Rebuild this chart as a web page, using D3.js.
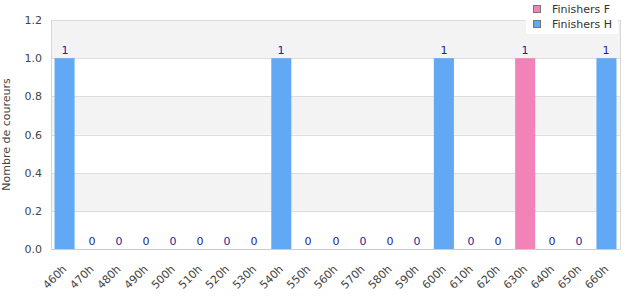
<!DOCTYPE html>
<html>
<head>
<meta charset="utf-8">
<script src="https://cdn.jsdelivr.net/npm/d3@7"></script>
<style>
  body { margin: 0; background: #fff; }
  text { font-family: "DejaVu Sans", sans-serif; }
</style>
</head>
<body>
<svg width="630" height="300"></svg>
<script>
// categories (time buckets) and finisher counts per series
var categories = ["460h", "470h", "480h", "490h", "500h", "510h", "520h", "530h", "540h", "550h",
    "560h", "570h", "580h", "590h", "600h", "610h", "620h", "630h", "640h", "650h", "660h"];
var finishersF = [0, 0, 0, 0, 0, 0, 0, 0, 0, 0, 0, 0, 0, 0, 0, 0, 0, 1, 0, 0, 0];
var finishersH = [1, 0, 0, 0, 0, 0, 0, 0, 1, 0, 0, 0, 0, 0, 1, 0, 0, 0, 0, 0, 1];
var yTicks = [0, 0.2, 0.4, 0.6, 0.8, 1.0, 1.2];
var seriesNames = ["Finishers F", "Finishers H"];
var seriesColors = ["#f283b9", "#62a9f5"];

var svg = d3.select("svg"),
    plotLeft = 51, plotRight = 620, plotTop = 20, plotBottom = 249;

var x = d3.scaleBand().domain(categories).range([plotLeft, plotRight]).paddingInner(0.26).paddingOuter(0.13);
var y = d3.scaleLinear().domain([0, 1.2]).range([plotBottom, plotTop]);

// striped background
var bands = yTicks.slice(0, -1).map(function (d, i) { return [d, yTicks[i + 1]]; });
svg.append("g").selectAll("rect")
    .data(bands)
    .enter().append("rect")
    .attr("x", plotLeft)
    .attr("width", plotRight - plotLeft)
    .attr("y", function (d) { return y(d[1]); })
    .attr("height", function (d) { return y(d[0]) - y(d[1]); })
    .attr("fill", function (d, i) { return i % 2 == 1 ? "#f3f3f3" : "#fff"; });

// grid lines
svg.append("g").selectAll("line")
    .data(yTicks)
    .enter().append("line")
    .attr("x1", plotLeft).attr("x2", plotRight)
    .attr("y1", function (d) { return Math.round(y(d)) + 0.5; })
    .attr("y2", function (d) { return Math.round(y(d)) + 0.5; })
    .attr("stroke", "#dddddd");

// frame
svg.append("line").attr("x1", plotLeft + 0.5).attr("x2", plotLeft + 0.5).attr("y1", plotTop).attr("y2", plotBottom)
    .attr("stroke", "#d6d6d6");
svg.append("line").attr("x1", plotRight + 0.5).attr("x2", plotRight + 0.5).attr("y1", plotTop).attr("y2", plotBottom)
    .attr("stroke", "#d6d6d6");

// stacked bars
var rows = categories.map(function (c, i) { return { cat: c, f: finishersF[i], h: finishersH[i] }; });
var stack = d3.stack().keys(["f", "h"])(rows);

svg.append("g").selectAll("g")
    .data(stack)
    .enter().append("g")
    .attr("fill", function (d, i) { return seriesColors[i]; })
    .selectAll("rect")
    .data(function (d) { return d; })
    .enter().append("rect")
    .attr("x", function (d) { return x(d.data.cat); })
    .attr("width", x.bandwidth())
    .attr("y", function (d) { return y(d[1]); })
    .attr("height", function (d) { return y(d[0]) - y(d[1]); });

// total labels
svg.append("g").selectAll("text")
    .data(rows)
    .enter().append("text")
    .attr("x", function (d) { return Math.round(x(d.cat) + x.bandwidth() / 2); })
    .attr("y", function (d) { return y(d.f + d.h) - 4; })
    .attr("text-anchor", "middle")
    .style("font-size", "11px")
    .attr("fill", "#1f1f99")
    .text(function (d) { return d.f + d.h; });

// y axis
var yAxis = svg.append("g")
    .attr("transform", "translate(" + plotLeft + ",0)")
    .call(d3.axisLeft(y).tickValues(yTicks).tickFormat(d3.format(".1f")).tickSize(0).tickPadding(9));
yAxis.select(".domain").remove();
yAxis.selectAll("text").style("font-size", "11px").attr("fill", "#444");

// x axis
var xAxis = svg.append("g")
    .attr("transform", "translate(0," + plotBottom + ")")
    .call(d3.axisBottom(x).tickSize(0));
xAxis.select(".domain").attr("stroke", "#cccccc");
xAxis.selectAll("text")
    .style("font-size", "11px")
    .attr("fill", "#444")
    .attr("text-anchor", "end")
    .attr("dy", "0.35em")
    .attr("transform", "translate(0,18) rotate(-45)")
    .attr("y", 0).attr("x", 0);

// y title
svg.append("text")
    .attr("transform", "translate(10," + (plotTop + plotBottom) / 2 + ") rotate(-90)")
    .attr("text-anchor", "middle")
    .style("font-size", "11px")
    .attr("fill", "#444")
    .text("Nombre de coureurs");

// legend
var legend = svg.append("g");
legend.append("rect").attr("x", 526).attr("y", 0).attr("width", 92).attr("height", 34).attr("fill", "#fff");
var item = legend.selectAll("g.item")
    .data(seriesNames)
    .enter().append("g")
    .attr("transform", function (d, i) { return "translate(533," + (5 + i * 15) + ")"; });
item.append("rect")
    .attr("x", 0.5).attr("y", 0.5)
    .attr("width", 7).attr("height", 7)
    .attr("fill", function (d, i) { return seriesColors[i]; })
    .attr("stroke", "#777");
item.append("text")
    .attr("x", 19).attr("y", 8)
    .style("font-size", "11px")
    .attr("fill", "#333")
    .text(function (d) { return d; });
</script>
</body>
</html>
